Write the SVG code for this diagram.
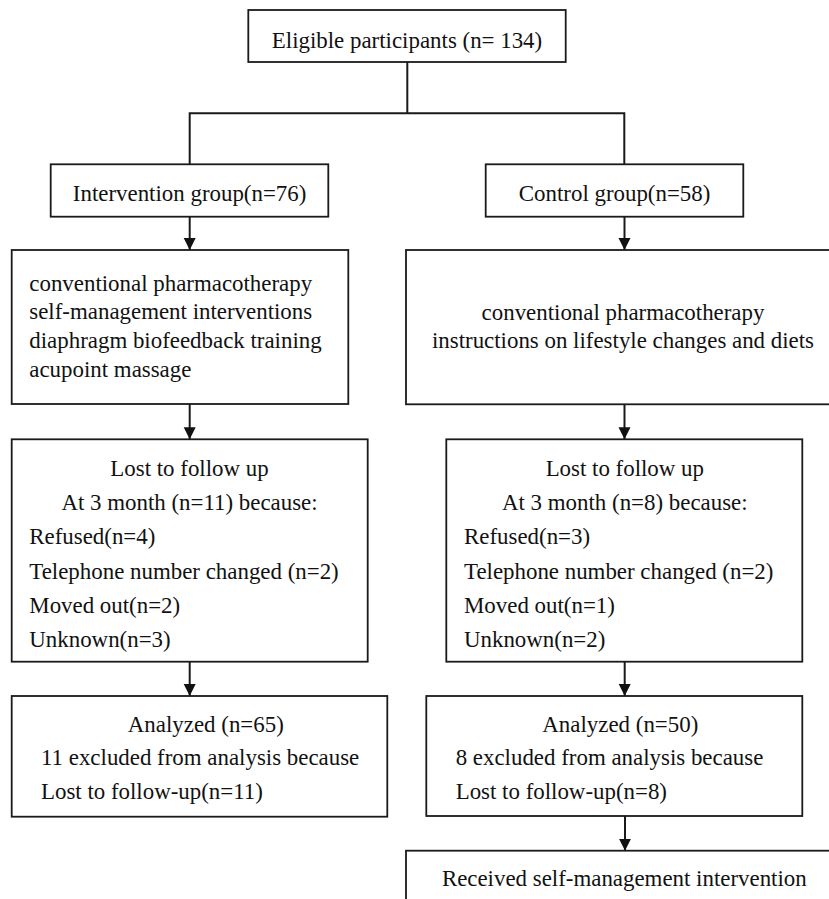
<svg xmlns="http://www.w3.org/2000/svg" width="829" height="899" viewBox="0 0 829 899">
<style>
.box{fill:#fff;stroke:#1a1a1a;stroke-width:1.8}
.t{font-family:"Liberation Serif","Times New Roman",Times,serif;font-size:22.9px;fill:#111}
.c{text-anchor:middle}
.ln{fill:none;stroke:#1a1a1a;stroke-width:2}
</style>
<defs>
<marker id="ah" markerUnits="userSpaceOnUse" markerWidth="12" markerHeight="14" refX="12" refY="6" orient="auto">
<path d="M0,0 L12,6 L0,12 Z" fill="#111"/>
</marker>
</defs>
<rect width="829" height="899" fill="#fff"/>
<g id="connectors">
<path class="ln" d="M407.3,62 V113.3 M189.7,113.3 H624.3 M189.7,112.3 V164.3 M624.3,112.3 V164.3"/>
<path class="ln" d="M189.7,216.7 V250" marker-end="url(#ah)"/>
<path class="ln" d="M624.5,216.7 V250" marker-end="url(#ah)"/>
<path class="ln" d="M189.7,404 V439.3" marker-end="url(#ah)"/>
<path class="ln" d="M624.5,404.3 V439.3" marker-end="url(#ah)"/>
<path class="ln" d="M189.7,661.7 V696" marker-end="url(#ah)"/>
<path class="ln" d="M624.7,661.7 V696" marker-end="url(#ah)"/>
<path class="ln" d="M625,816 V850.7" marker-end="url(#ah)"/>
</g>
<g id="eligible">
<rect class="box" x="248.3" y="10" width="317.4" height="52"/>
<text class="t c" x="407" y="47.5">Eligible participants (n= 134)</text>
</g>
<g id="intervention">
<rect class="box" x="50.7" y="164.3" width="277.6" height="52.4"/>
<text class="t c" x="189.6" y="200.5">Intervention group(n=76)</text>
</g>
<g id="control">
<rect class="box" x="485.7" y="164.3" width="257.6" height="52.4"/>
<text class="t c" x="614.6" y="200.5">Control group(n=58)</text>
</g>
<g id="intervention-treatment">
<rect class="box" x="11.7" y="250" width="336.6" height="154"/>
<text class="t" x="29.3" y="290.5">conventional pharmacotherapy</text>
<text class="t" x="29.3" y="319.2">self-management interventions</text>
<text class="t" x="29.3" y="347.9">diaphragm biofeedback training</text>
<text class="t" x="29.3" y="376.6">acupoint massage</text>
</g>
<g id="control-treatment">
<rect class="box" x="406" y="250" width="440" height="154.3"/>
<text class="t c" x="623" y="319.5">conventional pharmacotherapy</text>
<text class="t c" x="623" y="348.2">instructions on lifestyle changes and diets</text>
</g>
<g id="intervention-lost">
<rect class="box" x="11.7" y="439.3" width="356" height="222.4"/>
<text class="t c" x="189.5" y="476">Lost to follow up</text>
<text class="t c" x="189.5" y="510.2">At 3 month (n=11) because:</text>
<text class="t" x="29.3" y="544.4">Refused(n=4)</text>
<text class="t" x="29.3" y="578.6">Telephone number changed (n=2)</text>
<text class="t" x="29.3" y="612.8">Moved out(n=2)</text>
<text class="t" x="29.3" y="647">Unknown(n=3)</text>
</g>
<g id="control-lost">
<rect class="box" x="446.3" y="439.3" width="356" height="222.4"/>
<text class="t c" x="624.8" y="476">Lost to follow up</text>
<text class="t c" x="624.8" y="510.2">At 3 month (n=8) because:</text>
<text class="t" x="464" y="544.4">Refused(n=3)</text>
<text class="t" x="464" y="578.6">Telephone number changed (n=2)</text>
<text class="t" x="464" y="612.8">Moved out(n=1)</text>
<text class="t" x="464" y="647">Unknown(n=2)</text>
</g>
<g id="intervention-analyzed">
<rect class="box" x="11.7" y="696" width="375.6" height="120.7"/>
<text class="t c" x="205.8" y="731.5">Analyzed (n=65)</text>
<text class="t" x="41" y="765.3">11 excluded from analysis because</text>
<text class="t" x="41" y="799.1">Lost to follow-up(n=11)</text>
</g>
<g id="control-analyzed">
<rect class="box" x="426.3" y="696" width="376" height="120"/>
<text class="t c" x="620.3" y="731.5">Analyzed (n=50)</text>
<text class="t" x="455.7" y="765.3">8 excluded from analysis because</text>
<text class="t" x="455.7" y="799.1">Lost to follow-up(n=8)</text>
</g>
<g id="received">
<rect class="box" x="406" y="850.7" width="440" height="70"/>
<text class="t c" x="624.3" y="885.5">Received self-management intervention</text>
</g>
</svg>
